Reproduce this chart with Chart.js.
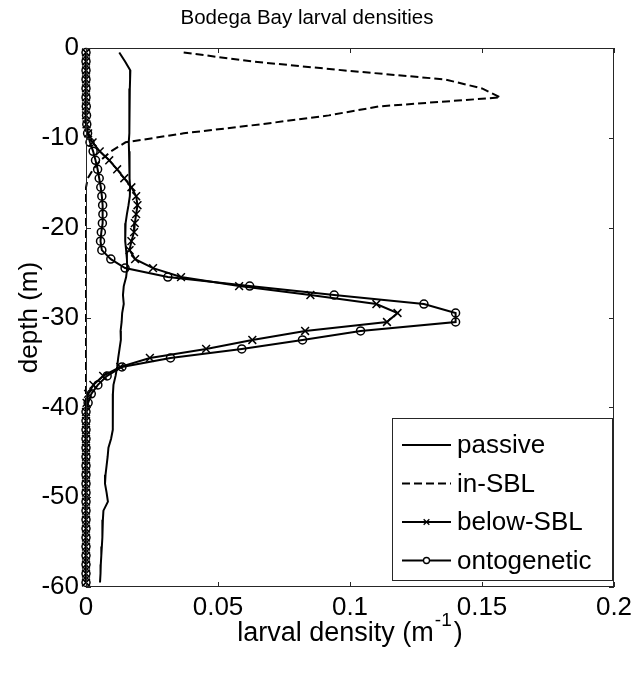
<!DOCTYPE html>
<html>
<head>
<meta charset="utf-8">
<script src="https://cdn.jsdelivr.net/npm/chart.js@4"></script>
<style>
  body { margin: 0; background: #fff; }
  canvas { display: block; }
</style>
</head>
<body>
<canvas id="chart" width="632" height="676"></canvas>
<script>
// depth (m) of each sample
var depth = [-0.5, -1.5, -2.5, -3.5, -4.5, -5.5, -6.5, -7.5, -8.5, -9.5,
    -10.5, -11.5, -12.5, -13.5, -14.5, -15.5, -16.5, -17.5, -18.5, -19.5,
    -20.5, -21.5, -22.5, -23.5, -24.5, -25.5, -26.5, -27.5, -28.5, -29.5,
    -30.5, -31.5, -32.5, -33.5, -34.5, -35.5, -36.5, -37.5, -38.5, -39.5,
    -40.5, -41.5, -42.5, -43.5, -44.5, -45.5, -46.5, -47.5, -48.5, -49.5,
    -50.5, -51.5, -52.5, -53.5, -54.5, -55.5, -56.5, -57.5, -58.5, -59.5];

var passive = [0.0126, 0.0148, 0.0168, 0.0167, 0.0166, 0.0165, 0.0164, 0.0165, 0.0164, 0.0163,
    0.0162, 0.0163, 0.0164, 0.0165, 0.0166, 0.0167, 0.0166, 0.0161, 0.0155, 0.0150,
    0.0148, 0.0149, 0.0152, 0.0155, 0.0156, 0.0152, 0.0143, 0.0140, 0.0143, 0.0137,
    0.0135, 0.0131, 0.0132, 0.0127, 0.0122, 0.0118, 0.0112, 0.0104, 0.0102, 0.0101,
    0.0102, 0.0101, 0.0102, 0.0095, 0.0085, 0.0082, 0.0078, 0.0074, 0.0072, 0.0078,
    0.0083, 0.0066, 0.0064, 0.0063, 0.0061, 0.0060, 0.0058, 0.0056, 0.0055, 0.0053];

var inSBL = [0.037, 0.063, 0.098, 0.136, 0.150, 0.157, 0.111, 0.092, 0.066, 0.037,
    0.015, 0.0095, 0.0055, 0.0027, 0.0007, 0, 0, 0, 0, 0,
    0, 0, 0, 0, 0, 0, 0, 0, 0, 0,
    0, 0, 0, 0, 0, 0, 0, 0, 0, 0,
    0, 0, 0, 0, 0, 0, 0, 0, 0, 0,
    0, 0, 0, 0, 0, 0, 0, 0, 0, 0];

var belowSBL = [0, 0, 0, 0, 0, 0, 0, 0, 0.0002, 0.0008,
    0.0025, 0.0052, 0.0088, 0.0118, 0.0145, 0.0172, 0.0190, 0.0195, 0.0190, 0.0185,
    0.0182, 0.0172, 0.0165, 0.0186, 0.0254, 0.036, 0.058, 0.085, 0.110, 0.118,
    0.114, 0.083, 0.063, 0.0455, 0.0242, 0.013, 0.0065, 0.0028, 0.0008, 0.0002,
    0, 0, 0, 0, 0, 0, 0, 0, 0, 0,
    0, 0, 0, 0, 0, 0, 0, 0, 0, 0];

var ontogenetic = [0, 0, 0, 0, 0, 0, 0.0001, 0.0002, 0.0003, 0.0006,
    0.0015, 0.0027, 0.0036, 0.0044, 0.0050, 0.0056, 0.0060, 0.0063, 0.0064, 0.0062,
    0.0058, 0.0055, 0.0060, 0.0094, 0.0148, 0.031, 0.062, 0.094, 0.128, 0.140,
    0.140, 0.104, 0.082, 0.059, 0.032, 0.0136, 0.008, 0.0045, 0.002, 0.0008,
    0, 0, 0, 0, 0, 0, 0, 0, 0, 0,
    0, 0, 0, 0, 0, 0, 0, 0, 0, 0];

var xTicks = [0, 0.05, 0.1, 0.15, 0.2];
var xTickLabels = ['0', '0.05', '0.1', '0.15', '0.2'];
var yTicks = [-60, -50, -40, -30, -20, -10, 0];
var yTickLabels = ['-60', '-50', '-40', '-30', '-20', '-10', '0'];

var seriesNames = ['passive', 'in-SBL', 'below-SBL', 'ontogenetic'];

var FONT = "'Liberation Sans', Arial, Helvetica, sans-serif";
Chart.defaults.font.family = FONT;
Chart.defaults.color = '#000';

function pts(vals) {
    var out = [];
    for (var i = 0; i < vals.length; i++) {
        out.push({ x: vals[i], y: depth[i] });
    }
    return out;
}

function series(label, vals, dash, style, r) {
    return {
        label: label,
        data: pts(vals),
        showLine: true,
        borderColor: '#000',
        borderWidth: 2,
        borderDash: dash,
        tension: 0,
        pointStyle: style || 'circle',
        pointRadius: r || 0,
        pointBorderWidth: 1.5,
        pointBorderColor: '#000',
        pointBackgroundColor: 'rgba(0,0,0,0)',
        clip: 8
    };
}

// box with inward ticks, x label with superscript, legend inside the axes
var matlabAxes = {
    id: 'matlabAxes',
    afterDatasetsDraw: function (chart) {
        var ctx = chart.ctx, a = chart.chartArea;
        var sx = chart.scales.x, sy = chart.scales.y;
        ctx.save();
        ctx.strokeStyle = '#262626';
        ctx.lineWidth = 1;
        ctx.strokeRect(Math.round(a.left) + 0.5, Math.round(a.top) + 0.5,
            Math.round(a.right - a.left) - 1, Math.round(a.bottom - a.top) - 1);
        ctx.beginPath();
        xTicks.forEach(function (v) {
            var px = Math.round(sx.getPixelForValue(v)) + 0.5;
            ctx.moveTo(px, a.bottom); ctx.lineTo(px, a.bottom - 5);
            ctx.moveTo(px, a.top); ctx.lineTo(px, a.top + 5);
        });
        yTicks.forEach(function (v) {
            var py = Math.round(sy.getPixelForValue(v)) + 0.5;
            ctx.moveTo(a.left, py); ctx.lineTo(a.left + 5, py);
            ctx.moveTo(a.right, py); ctx.lineTo(a.right - 5, py);
        });
        ctx.stroke();

        // x axis label: larval density (m^-1)
        ctx.fillStyle = '#000';
        ctx.textBaseline = 'alphabetic';
        ctx.textAlign = 'left';
        var big = '27px ' + FONT, small = '19px ' + FONT;
        ctx.font = big;
        var w1 = ctx.measureText('larval density (m').width;
        var w3 = ctx.measureText(')').width;
        ctx.font = small;
        var w2 = ctx.measureText('-1').width;
        var cx = (a.left + a.right) / 2;
        var x0 = cx - (w1 + w2 + w3 + 3) / 2;
        var base = 641;
        ctx.font = big;
        ctx.fillText('larval density (m', x0, base);
        ctx.font = small;
        ctx.fillText('-1', x0 + w1 + 1, base - 15);
        ctx.font = big;
        ctx.fillText(')', x0 + w1 + w2 + 3, base);

        // legend
        var L = a.right - 222, T = a.bottom - 169, R = a.right - 2, B = a.bottom - 7;
        ctx.fillStyle = '#fff';
        ctx.fillRect(L, T, R - L, B - T);
        ctx.strokeStyle = '#262626';
        ctx.lineWidth = 1;
        ctx.strokeRect(Math.round(L) + 0.5, Math.round(T) + 0.5, Math.round(R - L), Math.round(B - T));
        ctx.font = '26px ' + FONT;
        ctx.textBaseline = 'middle';
        chart.data.datasets.forEach(function (ds, i) {
            var yy = T + 27 + i * 38.5;
            var lx0 = L + 10, lx1 = L + 59;
            ctx.strokeStyle = '#000';
            ctx.lineWidth = 2;
            ctx.setLineDash(ds.borderDash || []);
            ctx.beginPath();
            ctx.moveTo(lx0, yy); ctx.lineTo(lx1, yy);
            ctx.stroke();
            ctx.setLineDash([]);
            if (ds.pointRadius > 0) {
                ctx.lineWidth = 1.3;
                ctx.fillStyle = '#fff';
                Chart.helpers.drawPoint(ctx, { pointStyle: ds.pointStyle, radius: ds.pointStyle === 'circle' ? 3 : 4, rotation: 0, borderWidth: 1.3 },
                    (lx0 + lx1) / 2, yy);
            }
            ctx.fillStyle = '#000';
            ctx.fillText(ds.label, L + 65, yy + 1);
        });
        ctx.restore();
    }
};

var ctx = document.getElementById('chart').getContext('2d');
var myChart = new Chart(ctx, {
    type: 'scatter',
    data: {
        datasets: [
            series(seriesNames[0], passive, []),
            series(seriesNames[1], inSBL, [8, 4]),
            series(seriesNames[2], belowSBL, [], 'crossRot', 5.5),
            series(seriesNames[3], ontogenetic, [], 'circle', 4)
        ]
    },
    options: {
        responsive: false,
        animation: false,
        layout: { padding: { left: 0, right: 18, top: 0, bottom: 0 } },
        plugins: {
            legend: { display: false },
            tooltip: { enabled: false },
            title: {
                display: true,
                text: 'Bodega Bay larval densities',
                font: { size: 20.5, weight: 'normal' },
                color: '#000',
                padding: { top: 6, bottom: 17.4 }
            }
        },
        scales: {
            x: {
                type: 'linear',
                min: 0,
                max: 0.2,
                grid: { display: false, drawTicks: false },
                border: { display: false },
                afterBuildTicks: function (s) { s.ticks = xTicks.map(function (v) { return { value: v }; }); },
                afterFit: function (s) { s.height = 89; s.paddingLeft = 0; s.paddingRight = 0; },
                ticks: {
                    padding: 5,
                    maxRotation: 0,
                    font: { size: 26 },
                    color: '#000',
                    callback: function (v) { return xTickLabels[xTicks.indexOf(v)]; }
                }
            },
            y: {
                type: 'linear',
                min: -60,
                max: 0,
                grid: { display: false, drawTicks: false },
                border: { display: false },
                afterBuildTicks: function (s) { s.ticks = yTicks.map(function (v) { return { value: v }; }); },
                afterFit: function (s) { s.width = 86; s.paddingTop = 0; s.paddingBottom = 0; },
                ticks: {
                    padding: 7,
                    font: { size: 26 },
                    color: '#000',
                    callback: function (v) { return yTickLabels[yTicks.indexOf(v)]; }
                },
                title: {
                    display: true,
                    text: 'depth (m)',
                    font: { size: 26 },
                    color: '#000',
                    padding: { top: 14, bottom: 0 }
                }
            }
        }
    },
    plugins: [matlabAxes]
});
</script>
</body>
</html>
